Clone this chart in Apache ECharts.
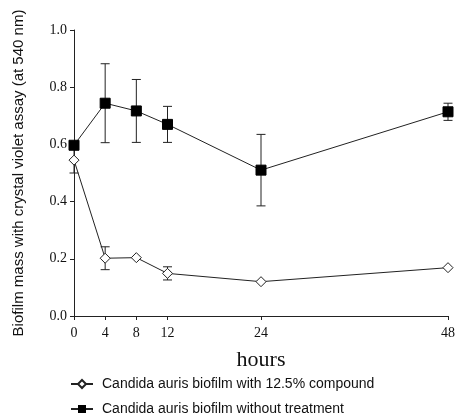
<!DOCTYPE html>
<html>
<head>
<meta charset="utf-8">
<script src="https://cdn.jsdelivr.net/npm/echarts@6/dist/echarts.min.js"></script>
<style>
  html, body { margin: 0; padding: 0; background: #fff; }
  #chart { width: 455px; height: 418px; }
</style>
</head>
<body>
<div id="chart"></div>
<script>
var hours = [0, 4, 8, 12, 24, 48];
var xTicks = [0, 4, 8, 12, 24, 48];

var compoundMean = [0.545, 0.202, 0.204, 0.149, 0.120, 0.169];
var compoundErr  = [0.045, 0.040, 0, 0.023, 0, 0];

var untreatedMean = [0.597, 0.744, 0.717, 0.670, 0.510, 0.714];
var untreatedErr  = [0, 0.138, 0.110, 0.063, 0.125, 0.030];

var nameCompound = 'Candida auris biofilm with 12.5% compound';
var nameUntreated = 'Candida auris biofilm without treatment';

function pairs(xs, ys) {
    return xs.map(function (x, i) { return [x, ys[i]]; });
}
function errData(xs, ys, es) {
    return xs.map(function (x, i) { return [x, ys[i] - es[i], ys[i] + es[i]]; })
        .filter(function (d) { return d[2] - d[1] > 0; });
}
function renderErr(params, api) {
    var x = api.value(0);
    var lo = api.coord([x, api.value(1)]);
    var hi = api.coord([x, api.value(2)]);
    var w = 4.5;
    var st = { stroke: '#222', lineWidth: 1, fill: null };
    return {
        type: 'group',
        children: [
            { type: 'line', shape: { x1: lo[0], y1: lo[1], x2: hi[0], y2: hi[1] }, style: st },
            { type: 'line', shape: { x1: lo[0] - w, y1: lo[1], x2: lo[0] + w, y2: lo[1] }, style: st },
            { type: 'line', shape: { x1: hi[0] - w, y1: hi[1], x2: hi[0] + w, y2: hi[1] }, style: st }
        ]
    };
}

var myChart = echarts.init(document.getElementById('chart'));
window.addEventListener("resize", function () {
    myChart.resize();
});

var serif = '"Liberation Serif", "DejaVu Serif", serif';
var sans = '"Liberation Sans", Arial, sans-serif';

var option = {
    animation: false,
    backgroundColor: '#fff',
    grid: { left: 74, right: 7, top: 30, bottom: 102, containLabel: false, outerBoundsMode: 'none' },
    legend: {
        orient: 'vertical',
        left: 70,
        top: 377,
        padding: 0,
        itemWidth: 22,
        itemHeight: 10,
        itemGap: 11,
        data: [nameCompound, nameUntreated],
        textStyle: { fontFamily: sans, fontSize: 14, color: '#111', padding: [0, 0, 0, 4] }
    },
    xAxis: {
        type: 'value',
        min: 0,
        max: 48,
        name: 'hours',
        nameLocation: 'middle',
        nameGap: 33,
        nameTextStyle: { fontFamily: serif, fontSize: 22, color: '#111' },
        splitLine: { show: false },
        axisLine: { lineStyle: { color: '#222', width: 1 } },
        axisTick: { show: true, length: 4, customValues: xTicks, lineStyle: { color: '#222' } },
        axisLabel: { customValues: xTicks, fontFamily: serif, fontSize: 14, color: '#111', margin: 10 }
    },
    yAxis: {
        type: 'value',
        min: 0,
        max: 1,
        interval: 0.2,
        name: 'Biofilm mass with crystal violet assay (at 540 nm)',
        nameLocation: 'middle',
        nameGap: 48,
        nameTextStyle: { fontFamily: sans, fontSize: 15, color: '#111' },
        splitLine: { show: false },
        axisLine: { show: true, lineStyle: { color: '#222', width: 1 } },
        axisTick: { show: true, length: 4, lineStyle: { color: '#222' } },
        axisLabel: {
            fontFamily: serif, fontSize: 14, color: '#111', margin: 7,
            formatter: function (v) { return v.toFixed(1); }
        }
    },
    series: [
        {
            name: 'errCompound',
            type: 'custom',
            renderItem: renderErr,
            data: errData(hours, compoundMean, compoundErr),
            encode: { x: 0, y: [1, 2] },
            z: 1
        },
        {
            name: 'errUntreated',
            type: 'custom',
            renderItem: renderErr,
            data: errData(hours, untreatedMean, untreatedErr),
            encode: { x: 0, y: [1, 2] },
            z: 1
        },
        {
            name: nameCompound,
            type: 'line',
            data: pairs(hours, compoundMean),
            symbol: 'diamond',
            symbolSize: 10,
            lineStyle: { color: '#222', width: 1 },
            itemStyle: { color: '#fff', borderColor: '#222', borderWidth: 1 },
            z: 3
        },
        {
            name: nameUntreated,
            type: 'line',
            data: pairs(hours, untreatedMean),
            symbol: 'rect',
            symbolSize: 10,
            lineStyle: { color: '#222', width: 1 },
            itemStyle: { color: '#000', borderColor: '#000' },
            z: 4
        }
    ]
};

myChart.setOption(option);
</script>
</body>
</html>
